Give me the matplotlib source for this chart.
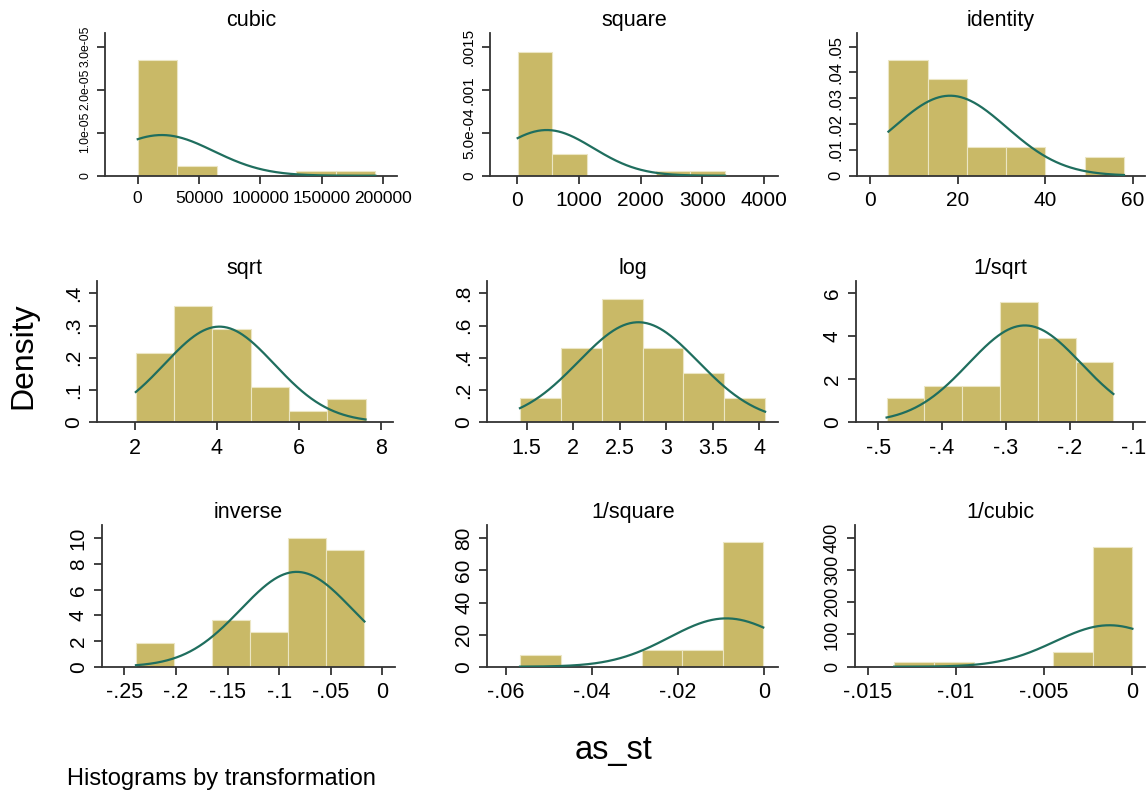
import numpy as np
import matplotlib.pyplot as plt

plt.rcParams['font.family'] = ['Liberation Sans', 'DejaVu Sans']

# ---- data (bin edges, densities, normal fit) ----
titles = ["cubic", "square", "identity", "sqrt", "log", "1/sqrt",
          "inverse", "1/square", "1/cubic"]

cubic_edges = [64, 32300, 64540, 96780, 129020, 161260, 193500]
cubic_dens = [2.70e-5, 0.225e-5, 0, 0, 0.10e-5, 0.10e-5]
cubic_fit = (19600, 42170)

square_edges = [16, 574, 1132, 1690, 2248, 2806, 3364]
square_dens = [1.442e-3, 2.48e-4, 0, 0, 5.8e-5, 5.8e-5]
square_fit = (485, 751)

identity_edges = [4.2, 13.15, 22.1, 31.05, 40.0, 48.95, 57.9]
identity_dens = [0.0448, 0.0373, 0.0112, 0.0112, 0, 0.0074]
identity_fit = (18.25, 12.87)

sqrt_edges = [2.02, 2.955, 3.89, 4.825, 5.76, 6.695, 7.63]
sqrt_dens = [0.216, 0.361, 0.289, 0.110, 0.035, 0.071]
sqrt_fit = (4.06, 1.345)

log_edges = [1.428, 1.867, 2.306, 2.745, 3.184, 3.623, 4.062]
log_dens = [0.153, 0.459, 0.763, 0.459, 0.308, 0.153]
log_fit = (2.70, 0.643)

invsqrt_edges = [-0.487, -0.4277, -0.3684, -0.3091, -0.2498, -0.1905, -0.1312]
invsqrt_dens = [1.147, 1.705, 1.705, 5.61, 3.94, 2.82]
invsqrt_fit = (-0.270, 0.0885)

inverse_edges = [-0.2387, -0.2018, -0.1649, -0.1280, -0.0911, -0.0542, -0.0173]
inverse_dens = [1.87, 0, 3.64, 2.73, 10.0, 9.09]
inverse_fit = (-0.083, 0.054)

invsq_edges = [-0.0567, -0.04729, -0.03788, -0.02847, -0.01906, -0.00965, -0.00024]
invsq_dens = [7.27, 0, 0, 10.4, 10.4, 77.9]
invsq_fit = (-0.0088, 0.01325)

invcub_edges = [-0.0135, -0.01125, -0.0090, -0.00675, -0.0045, -0.00225, 0.0]
invcub_dens = [15.5, 15.5, 0, 0, 44.6, 371]
invcub_fit = (-0.0013, 0.0031)

xticks = [
    ([0, 50000, 100000, 150000, 200000], ["0", "50000", "100000", "150000", "200000"]),
    ([0, 1000, 2000, 3000, 4000], ["0", "1000", "2000", "3000", "4000"]),
    ([0, 20, 40, 60], ["0", "20", "40", "60"]),
    ([2, 4, 6, 8], ["2", "4", "6", "8"]),
    ([1.5, 2, 2.5, 3, 3.5, 4], ["1.5", "2", "2.5", "3", "3.5", "4"]),
    ([-.5, -.4, -.3, -.2, -.1], ["-.5", "-.4", "-.3", "-.2", "-.1"]),
    ([-.25, -.2, -.15, -.1, -.05, 0], ["-.25", "-.2", "-.15", "-.1", "-.05", "0"]),
    ([-.06, -.04, -.02, 0], ["-.06", "-.04", "-.02", "0"]),
    ([-.015, -.01, -.005, 0], ["-.015", "-.01", "-.005", "0"]),
]
yticks = [
    ([0, 1e-5, 2e-5, 3e-5], ["0", "1.0e-05", "2.0e-05", "3.0e-05"]),
    ([0, 5e-4, 1e-3, 1.5e-3], ["0", "5.0e-04", ".001", ".0015"]),
    ([0, .01, .02, .03, .04, .05], ["0", ".01", ".02", ".03", ".04", ".05"]),
    ([0, .1, .2, .3, .4], ["0", ".1", ".2", ".3", ".4"]),
    ([0, .2, .4, .6, .8], ["0", ".2", ".4", ".6", ".8"]),
    ([0, 2, 4, 6], ["0", "2", "4", "6"]),
    ([0, 2, 4, 6, 8, 10], ["0", "2", "4", "6", "8", "10"]),
    ([0, 20, 40, 60, 80], ["0", "20", "40", "60", "80"]),
    ([0, 100, 200, 300, 400], ["0", "100", "200", "300", "400"]),
]

panels = [
    (cubic_edges, cubic_dens, cubic_fit),
    (square_edges, square_dens, square_fit),
    (identity_edges, identity_dens, identity_fit),
    (sqrt_edges, sqrt_dens, sqrt_fit),
    (log_edges, log_dens, log_fit),
    (invsqrt_edges, invsqrt_dens, invsqrt_fit),
    (inverse_edges, inverse_dens, inverse_fit),
    (invsq_edges, invsq_dens, invsq_fit),
    (invcub_edges, invcub_dens, invcub_fit),
]

# ---- layout (pixels: left, baseline, right, top) and axis ranges ----
W, H = 1147, 797
boxes = [
    (105, 175.7, 397, 33), (490, 175.7, 778, 33), (857, 175.7, 1145, 33),
    (96.7, 422.3, 393, 280.7), (487.3, 422.3, 778.3, 280.7), (855.7, 422.3, 1145, 280.7),
    (101.7, 666.7, 395, 525), (487.3, 666.7, 778.3, 525), (855, 666.7, 1145, 525),
]
xlims = [(-26600, 211150), (-431, 4220), (-2.97, 62.7),
         (1.065, 8.30), (1.077, 4.204), (-.5355, -.0816),
         (-.2719, .0123), (-.0643, .00325), (-.01572, .000715)]
ytops = [3.32e-5, 1.66e-3, .0553, .439, .878, 6.59, 11.04, 88.3, 440]
# tick label sizes, shrunk where the labels are crowded
xsizes = [12.5, 15, 15, 15.5, 15.5, 15.5, 15.5, 15.5, 15.5]
ysizes = [8.8, 11, 12, 15, 15, 15, 15, 15, 13]

BAR = '#c9b967'
CURVE = '#1f6e5e'

fig = plt.figure(figsize=(W / 100, H / 100), dpi=100)

for i, (edges, dens, (mu, sd)) in enumerate(panels):
    l, b, r, t = boxes[i]
    ax = fig.add_axes([l / W, (H - b) / H, (r - l) / W, (b - t) / H])
    edges = np.asarray(edges, dtype=float)
    ax.bar(edges[:-1], dens, width=np.diff(edges), align='edge',
           color=BAR, edgecolor='#ece6c4', linewidth=0.8, zorder=2)
    xs = np.linspace(edges[0], edges[-1], 300)
    pdf = np.exp(-0.5 * ((xs - mu) / sd) ** 2) / (sd * np.sqrt(2 * np.pi))
    ax.plot(xs, pdf, color=CURVE, lw=1.6, zorder=3)

    ax.set_xlim(*xlims[i])
    ax.set_ylim(0, ytops[i])
    ax.set_xticks(*xticks[i])
    ax.set_yticks(yticks[i][0])
    ax.set_yticklabels(yticks[i][1], rotation=90, va='center')
    for s in ['top', 'right']:
        ax.spines[s].set_visible(False)
    for s in ['left', 'bottom']:
        ax.spines[s].set_linewidth(1.3)
        ax.spines[s].set_color('#333333')
    ax.tick_params(direction='out', length=6, width=1.3, color='#333333')
    ax.tick_params(axis='x', pad=5, labelsize=xsizes[i])
    ax.tick_params(axis='y', pad=4, labelsize=ysizes[i])
    ax.set_title(titles[i], fontsize=15.5, pad=5)

fig.text(23 / W, 1 - 356 / H, "Density", rotation=90, fontsize=23,
         ha='center', va='center')
fig.text(614 / W, 1 - 750 / H, "as_st", fontsize=23.5, ha='center', va='center')
fig.text(67 / W, 1 - 779 / H, "Histograms by transformation", fontsize=17,
         ha='left', va='center')

fig.savefig("out.png", dpi=100)
